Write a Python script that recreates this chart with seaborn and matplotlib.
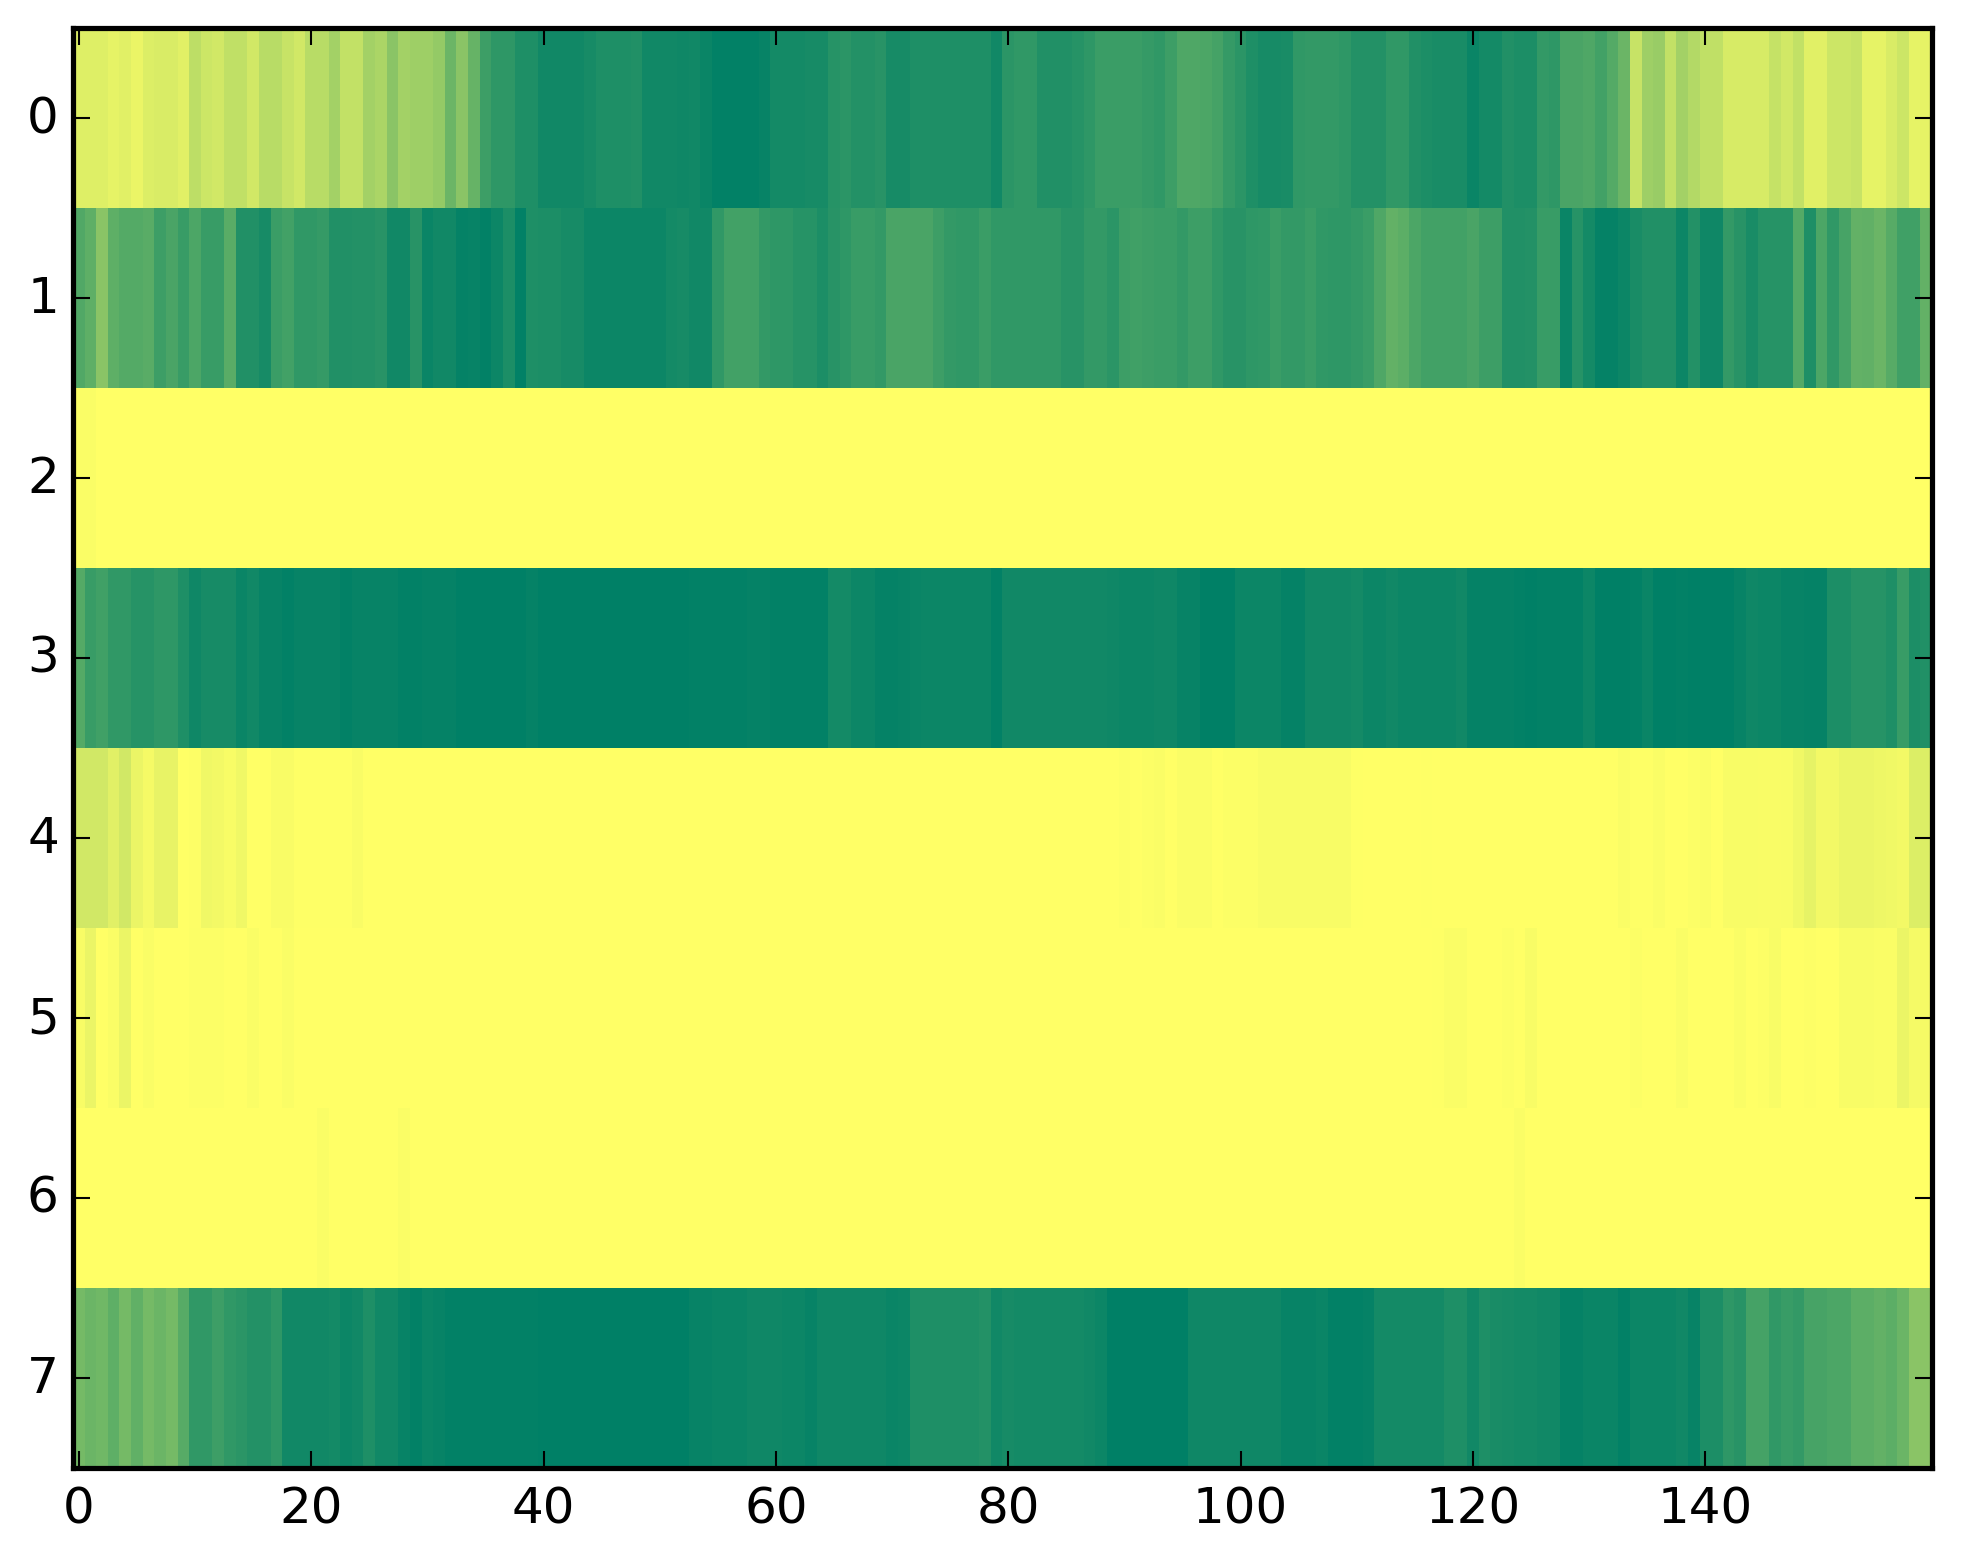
#!/usr/bin/env python3
"""Heatmap of 8 channels over 160 frames, summer colormap"""

import numpy as np
import matplotlib
matplotlib.use('Agg')
import matplotlib.pyplot as plt
import seaborn as sns

# Values, one list per row (0 = green, 1 = yellow)
row_0 = [
    .87, .87, .87, .90, .88, .92, .86, .85, .85, .88,
    .74, .80, .82, .75, .75, .82, .72, .72, .78, .82,
    .72, .72, .64, .76, .76, .64, .67, .54, .64, .62,
    .62, .58, .42, .54, .40, .24, .18, .18, .12, .12,
    .07, .07, .07, .07, .09, .12, .12, .12, .13, .07,
    .07, .07, .06, .07, .04, .01, .01, .01, .01, .03,
    .08, .08, .08, .09, .09, .15, .17, .14, .14, .16,
    .09, .09, .12, .12, .12, .12, .12, .12, .12, .07,
    .17, .19, .19, .13, .13, .13, .15, .18, .23, .23,
    .23, .23, .21, .19, .24, .31, .31, .30, .27, .21,
    .17, .12, .09, .09, .10, .19, .20, .20, .20, .18,
    .14, .14, .14, .19, .19, .13, .11, .10, .10, .10,
    .04, .08, .08, .13, .11, .11, .20, .18, .29, .29,
    .31, .26, .33, .42, .78, .62, .60, .76, .64, .70,
    .75, .75, .84, .84, .84, .84, .77, .82, .76, .88,
    .88, .80, .80, .78, .90, .90, .85, .80, .90, .90,
]
row_1 = [
    .32, .37, .54, .37, .33, .33, .35, .24, .29, .22,
    .30, .22, .22, .35, .13, .13, .09, .23, .26, .19,
    .19, .21, .13, .13, .14, .14, .16, .07, .07, .16,
    .04, .07, .07, .02, .03, .01, .05, .11, .01, .12,
    .11, .11, .09, .09, .05, .05, .05, .05, .05, .05,
    .05, .08, .09, .07, .07, .19, .26, .26, .26, .20,
    .18, .18, .15, .15, .11, .16, .18, .22, .22, .20,
    .29, .29, .29, .29, .24, .20, .19, .19, .23, .19,
    .19, .19, .19, .19, .19, .16, .16, .20, .20, .17,
    .24, .25, .24, .23, .23, .20, .24, .24, .19, .16,
    .16, .18, .19, .23, .20, .20, .23, .19, .18, .18,
    .20, .23, .31, .39, .36, .30, .26, .26, .26, .26,
    .29, .24, .24, .13, .13, .14, .22, .22, .04, .15,
    .08, .02, .02, .05, .10, .13, .13, .13, .05, .14,
    .06, .06, .20, .16, .10, .15, .15, .15, .33, .12,
    .30, .19, .28, .39, .38, .42, .34, .25, .25, .39,
]
row_2 = [.98, .98] + [1.0] * 158
row_3 = [
    .33, .22, .25, .19, .19, .15, .15, .18, .18, .12,
    .06, .09, .09, .09, .04, .07, .03, .03, .01, .03,
    .03, .03, .03, .01, .03, .03, .03, .03, .01, .01,
    .02, .02, .02, .00, .00, .00, .00, .00, .00, .02,
    .00, .00, .00, .00, .00, .00, .00, .00, .00, .00,
    .00, .00, .00, .01, .01, .01, .01, .01, .02, .02,
    .01, .01, .01, .01, .01, .08, .08, .05, .05, .02,
    .02, .03, .04, .05, .05, .05, .05, .05, .05, .01,
    .07, .07, .07, .07, .07, .07, .07, .07, .07, .06,
    .05, .05, .05, .06, .06, .03, .03, .00, .00, .00,
    .05, .05, .05, .05, .02, .02, .07, .07, .07, .07,
    .08, .05, .05, .07, .05, .05, .05, .05, .05, .07,
    .02, .02, .02, .02, .01, .00, .01, .01, .01, .01,
    .05, .00, .00, .00, .01, .04, .00, .00, .01, .00,
    .00, .00, .00, .03, .06, .05, .05, .03, .03, .02,
    .02, .11, .11, .15, .15, .15, .12, .22, .11, .13,
]
row_4 = [
    .82, .82, .82, .88, .82, .92, .96, .91, .91, 1.0,
    .99, .94, .95, .97, .94, 1.0, 1.0, .975, .975, .995,
    .995, .995, .995, .995, .975] + [1.0] * 65 + [
    .985, 1.0, .985, .98, 1.0, .98, .98, .98, 1.0, .985,
    .985, .985, .97, .97, .97, .97, .97, .97, .97, .97,
    .995, 1.0, 1.0, 1.0, 1.0, 1.0, .995] + [1.0] * 16 + [
    .98, .995, .995, .98, 1.0, 1.0, .985, .98, 1.0, .97,
    .97, .97, .975, .975, .97, .94, .90, .95, .95, .92,
    .92, .92, .93, .94, .95, .86, .86,
]
row_5 = [
    .97, .92, 1.0, .98, .92, 1.0, .98, 1.0, 1.0, 1.0,
    .985, .985, .985, 1.0, 1.0, .98, 1.0, 1.0, .98] + [1.0] * 98 + [
    .995, .98, .98, 1.0, 1.0, 1.0, .985, 1.0, .97, 1.0,
    1.0, 1.0, 1.0, 1.0, 1.0, 1.0, 1.0, .985, 1.0, 1.0,
    1.0, .98, 1.0, 1.0, 1.0, 1.0, .98, 1.0, .99, .97,
    1.0, 1.0, .99, 1.0, 1.0, .97, .97, .97, .98, .98,
    .92, .96, .96,
]
row_6 = [1.0] * 21 + [.98] + [1.0] * 6 + [.98] + [1.0] * 95 + [.98] + [1.0] * 35
row_7 = [
    .46, .42, .44, .37, .46, .38, .46, .42, .46, .34,
    .19, .19, .24, .19, .17, .14, .14, .18, .07, .07,
    .07, .07, .08, .05, .07, .12, .07, .07, .03, .01,
    .04, .03, .01, .01, .01, .01, .01, .01, .01, .01,
    .00, .00, .00, .00, .00, .00, .00, .00, .00, .00,
    .00, .00, .00, .03, .03, .04, .04, .04, .06, .06,
    .06, .05, .05, .03, .06, .06, .06, .06, .06, .06,
    .04, .05, .12, .12, .12, .12, .12, .12, .14, .07,
    .09, .08, .08, .08, .08, .08, .08, .07, .05, .00,
    .00, .00, .00, .00, .00, .00, .06, .06, .06, .06,
    .06, .06, .06, .06, .03, .03, .03, .04, .01, .01,
    .01, .02, .08, .08, .08, .08, .08, .08, .12, .12,
    .07, .12, .10, .09, .08, .08, .07, .07, .02, .02,
    .04, .04, .04, .01, .05, .05, .05, .05, .07, .03,
    .11, .11, .18, .16, .27, .27, .19, .22, .20, .28,
    .28, .30, .30, .36, .36, .39, .36, .42, .54, .54,
]

rows = [row_0, row_1, row_2, row_3, row_4, row_5, row_6, row_7]
print([len(r) for r in rows])
data = np.array(rows)

plt.rcParams['font.family'] = 'DejaVu Sans'

W, H = 1963, 1564
fig = plt.figure(figsize=(W / 300, H / 300), dpi=300)
ax = fig.add_axes([73 / W, 1 - 1469 / H, (1932 - 73) / W, (1469 - 29) / H])

sns.heatmap(data, cmap='summer', vmin=0, vmax=1, cbar=False,
            xticklabels=20, yticklabels=1, ax=ax)

# Old matplotlib look: ticks inward on all four sides, full black frame
for spine in ax.spines.values():
    spine.set_visible(True)
    spine.set_linewidth(1.25)
    spine.set_color('black')
ax.tick_params(axis='both', direction='in', top=True, right=True, length=4,
               width=0.5, color='black', labelsize=12, pad=4)
ax.tick_params(axis='x', labelrotation=0)
ax.tick_params(axis='y', labelrotation=0, pad=3.4)

plt.savefig('out.png', dpi=300)
plt.close()
